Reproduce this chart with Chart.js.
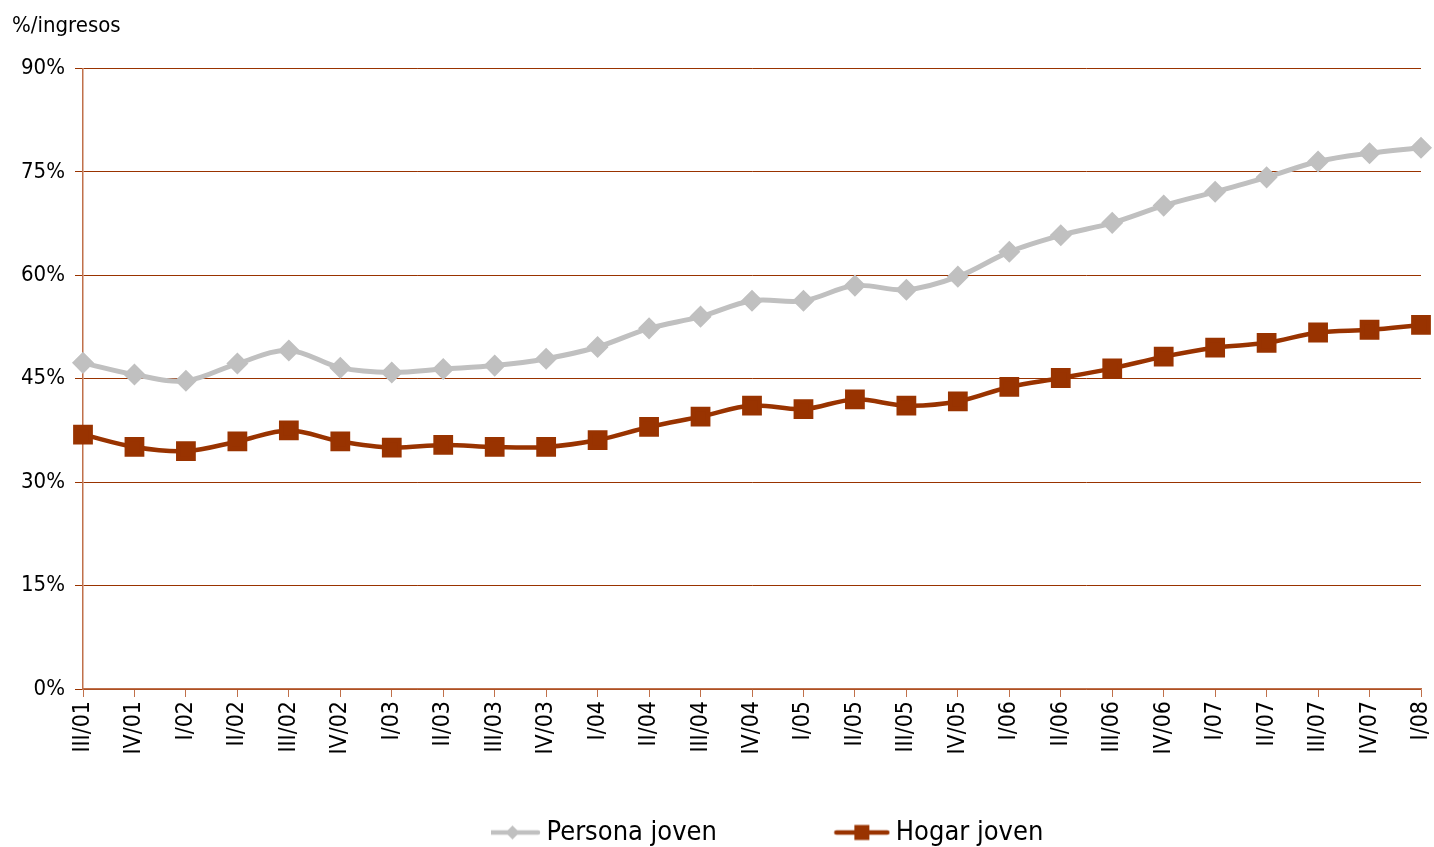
<!DOCTYPE html>
<html>
<head>
<meta charset="utf-8">
<script src="https://cdn.jsdelivr.net/npm/chart.js@4/dist/chart.umd.min.js"></script>
<style>
  html, body { margin: 0; padding: 0; background: #fff; }
  #wrap { width: 1434px; height: 847px; }
</style>
</head>
<body>
<div id="wrap"><canvas id="chartCanvas"></canvas></div>
<script>
// quarters on the x axis
const labels = ['III/01', 'IV/01', 'I/02', 'II/02', 'III/02', 'IV/02', 'I/03', 'II/03', 'III/03', 'IV/03',
    'I/04', 'II/04', 'III/04', 'IV/04', 'I/05', 'II/05', 'III/05', 'IV/05', 'I/06', 'II/06',
    'III/06', 'IV/06', 'I/07', 'II/07', 'III/07', 'IV/07', 'I/08'];

// % of income
const personaJoven = [47.3, 45.6, 44.7, 47.2, 49.1, 46.6, 45.9, 46.4, 46.9, 47.9,
    49.6, 52.3, 54.0, 56.3, 56.3, 58.5, 57.9, 59.8, 63.4, 65.8,
    67.6, 70.1, 72.1, 74.2, 76.5, 77.7, 78.5];
const hogarJoven = [36.9, 35.1, 34.5, 35.9, 37.5, 35.9, 35.0, 35.4, 35.1, 35.1,
    36.1, 38.0, 39.5, 41.1, 40.6, 42.0, 41.1, 41.7, 43.8, 45.1,
    46.5, 48.2, 49.5, 50.2, 51.7, 52.1, 52.8];

const seriesNames = ['Persona joven', 'Hogar joven'];
const yTicks = [0, 15, 30, 45, 60, 75, 90];

const GRAY = '#c0c0c0';
const RUST = '#993300';
const AXIS = '#c0704a';
const FONT = "'Liberation Sans Narrow', 'Arial Narrow', 'DejaVu Sans Condensed', sans-serif";

// little line + marker picture for the legend
function legendIcon(color, shape) {
    const c = document.createElement('canvas');
    c.width = 57;
    c.height = 18;
    const g = c.getContext('2d');
    g.strokeStyle = color;
    g.fillStyle = color;
    g.lineWidth = 4.5;
    g.lineCap = 'round';
    g.beginPath();
    g.moveTo(3, 9);
    g.lineTo(54, 9);
    g.stroke();
    if (shape === 'diamond') {
        g.beginPath();
        g.moveTo(28.5, 2);
        g.lineTo(35.5, 9);
        g.lineTo(28.5, 16);
        g.lineTo(21.5, 9);
        g.closePath();
        g.fill();
    } else {
        g.fillRect(21, 1.5, 15, 15);
    }
    return c;
}
const icons = [legendIcon(GRAY, 'diamond'), legendIcon(RUST, 'square')];

// put the legend row where the original has it (starts left of centre, sits low)
const legendShift = {
    id: 'legendShift',
    afterLayout(chart) {
        const lg = chart.legend;
        const w = lg.right - lg.left;
        lg.left = 491;
        lg.right = 491 + w;
        lg.top += 9;
        lg.bottom += 9;
    },
};

const ctx = document.getElementById('chartCanvas').getContext('2d');
new Chart(ctx, {
    type: 'line',
    data: {
        labels: labels,
        datasets: [
            {
                label: seriesNames[0],
                data: personaJoven,
                borderColor: GRAY,
                backgroundColor: GRAY,
                borderWidth: 5,
                pointStyle: 'rectRot',
                pointRadius: 7.5,
                pointHoverRadius: 7.5,
                tension: 0.35,
                fill: false,
            },
            {
                label: seriesNames[1],
                data: hogarJoven,
                borderColor: RUST,
                backgroundColor: RUST,
                borderWidth: 4.5,
                pointStyle: 'rect',
                pointRadius: 10.8,
                pointHoverRadius: 10.8,
                tension: 0.35,
                fill: false,
            },
        ],
    },
    plugins: [legendShift],
    options: {
        responsive: true,
        maintainAspectRatio: false,
        animation: false,
        layout: { autoPadding: false, padding: { left: 12, right: 13, top: 0, bottom: 0 } },
        plugins: {
            title: {
                display: true,
                text: '%/ingresos',
                align: 'start',
                color: '#000',
                font: { family: FONT, size: 22, weight: 'normal' },
                padding: { top: 13, bottom: 29 },
            },
            legend: {
                position: 'bottom',
                align: 'start',
                labels: {
                    usePointStyle: true,
                    pointStyleWidth: 41,
                    padding: 1,
                    color: '#000',
                    font: { family: FONT, size: 27, lineHeight: 1 },
                    generateLabels: (chart) => chart.data.datasets.map((ds, i) => ({
                        // trailing spaces keep the wide gap between the two entries
                        text: i === 0 ? ds.label + '\u00a0'.repeat(16) : ds.label,
                        pointStyle: icons[i],
                        datasetIndex: i,
                        fontColor: '#000',
                        lineWidth: 0,
                        strokeStyle: 'transparent',
                        fillStyle: 'transparent',
                    })),
                },
            },
            tooltip: { enabled: false },
        },
        scales: {
            x: {
                offset: false,
                grid: {
                    display: true,
                    drawOnChartArea: false,
                    drawTicks: true,
                    tickLength: 8,
                    color: AXIS,
                },
                border: { color: AXIS, width: 1.5 },
                ticks: {
                    color: '#000',
                    font: { family: FONT, size: 23 },
                    minRotation: 90,
                    maxRotation: 90,
                    autoSkip: false,
                    padding: 4,
                },
                afterFit: (scale) => {
                    scale.height = 120;
                    scale.paddingLeft = 0;
                    scale.paddingRight = 0;
                },
            },
            y: {
                min: 0,
                max: 90,
                afterBuildTicks: (scale) => { scale.ticks = yTicks.map(v => ({ value: v })); },
                grid: {
                    color: RUST,
                    lineWidth: 1,
                    tickLength: 8,
                },
                border: { color: AXIS, width: 1.5 },
                ticks: {
                    color: '#000',
                    font: { family: FONT, size: 22 },
                    padding: 10,
                    callback: (v) => v + '%',
                },
                afterFit: (scale) => { scale.width = 71; },
            },
        },
    },
});
</script>
</body>
</html>
